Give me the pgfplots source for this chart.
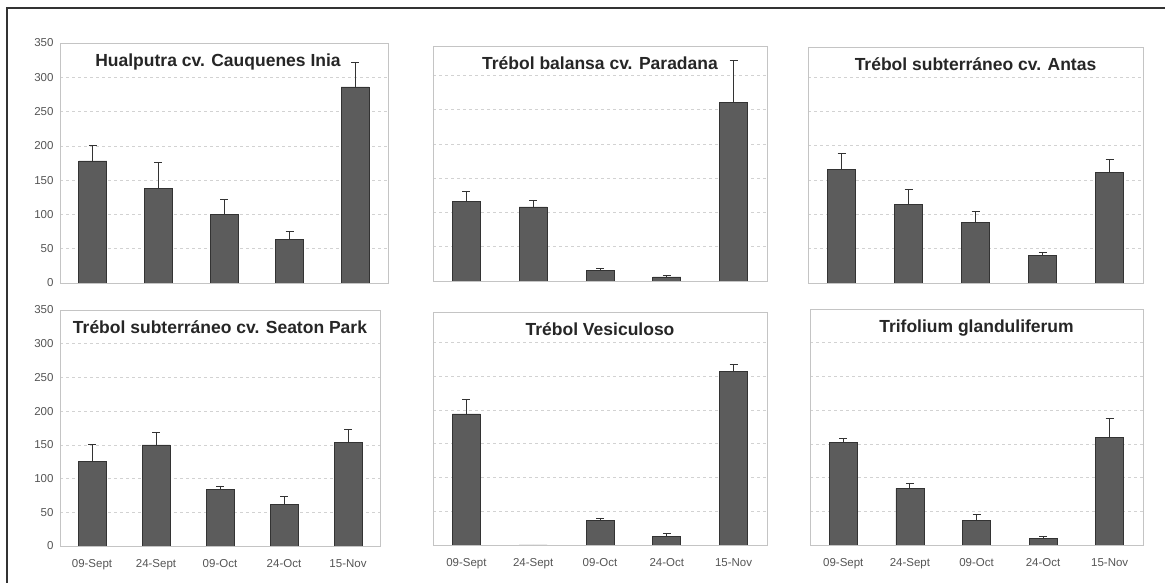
\documentclass[border=0pt]{standalone}
\usepackage{fontspec}
\setmainfont{Liberation Sans}
\usepackage{pgfplots}
\pgfplotsset{compat=1.18}

\definecolor{barfill}{HTML}{5C5C5C}
\definecolor{baredge}{HTML}{333333}
\definecolor{framegray}{HTML}{C4C4C4}
\definecolor{gridgray}{HTML}{D2D2D2}
\definecolor{ticktext}{HTML}{555555}

\pgfplotsset{
  panel/.style={
    scale only axis,
    anchor=south west,
    ybar,
    bar width=28pt,
    xmin=-0.5, xmax=4.5,
    ymin=0,
    xtick={0,...,4},
    ytick={0,50,...,350},
    xticklabels={},
    yticklabels={},
    axis line style={draw=framegray, line width=0.8pt},
    ymajorgrids,
    grid style={dashed, gridgray, line width=0.6pt},
    tick style={draw=none},
    /pgf/number format/assume math mode=true,
    ticklabel style={font=\fontsize{11.5}{13}\selectfont, text=ticktext},
    title style={at={(0.5,1)}, anchor=north, yshift=-13pt,
                 font=\bfseries\fontsize{17.5}{20}\selectfont, text=black!85},
  },
  withy/.style={yticklabels={0,50,100,150,200,250,300,350},
                yticklabel style={xshift=-3pt}},
  withx/.style={xticklabels={09-Sept,24-Sept,09-Oct,24-Oct,15-Nov},
                xticklabel style={yshift=-6pt}},
  barstyle/.style={fill=barfill, draw=baredge, line width=0.7pt,
    error bars/.cd, y dir=plus, y explicit,
    error bar style={draw=baredge, line width=0.9pt},
    error mark options={rotate=90, mark size=4pt, draw=baredge, line width=0.9pt}},
}

\begin{document}
\begin{tikzpicture}
\useasboundingbox (0pt,0pt) rectangle (1165pt,583pt);
\draw[line width=1.3pt, black!80] (7pt,0pt) -- (7pt,575pt) -- (1165pt,575pt);

% top row
\begin{axis}[panel, withy, at={(60pt,300pt)}, width=328pt, height=240pt, ymax=350,
  title={Hualputra cv. Cauquenes Inia}, title style={xshift=-6pt}]
\addplot[barstyle] coordinates {(0,178) +- (0,22) (1,138) +- (0,38) (2,100) +- (0,22) (3,64) +- (0,11) (4,286) +- (0,36)};
\end{axis}

\begin{axis}[panel, at={(433pt,302pt)}, width=334pt, height=235pt, ymax=343,
  title={Trébol balansa cv. Paradana}]
\addplot[barstyle] coordinates {(0,116) +- (0,15) (1,108) +- (0,9) (2,15) +- (0,3) (3,6) +- (0,1.5) (4,261) +- (0,61)};
\end{axis}

\begin{axis}[panel, at={(808pt,300pt)}, width=335pt, height=236pt, ymax=344,
  title={Trébol subterráneo cv. Antas}]
\addplot[barstyle] coordinates {(0,166) +- (0,23) (1,115) +- (0,21) (2,88) +- (0,16) (3,40) +- (0,5) (4,161) +- (0,19)};
\end{axis}

% bottom row
\begin{axis}[panel, withy, withx, at={(60pt,37pt)}, width=320pt, height=236pt, ymax=350,
  title={Trébol subterráneo cv. Seaton Park}]
\addplot[barstyle] coordinates {(0,126) +- (0,24) (1,150) +- (0,18) (2,84) +- (0,5) (3,62) +- (0,11) (4,154) +- (0,19)};
\end{axis}

\begin{axis}[panel, withx, at={(433pt,38pt)}, width=334pt, height=233pt, ymax=345,
  title={Trébol Vesiculoso}]
\addplot[barstyle] coordinates {(0,194) +- (0,21) (1,0) +- (0,0) (2,37) +- (0,3) (3,13) +- (0,4) (4,257) +- (0,10)};
\end{axis}

\begin{axis}[panel, withx, at={(810pt,38pt)}, width=333pt, height=236pt, ymax=350,
  title={Trifolium glanduliferum}]
\addplot[barstyle] coordinates {(0,152) +- (0,6) (1,84) +- (0,8) (2,37) +- (0,8) (3,10) +- (0,2) (4,160) +- (0,28)};
\end{axis}
\end{tikzpicture}
\end{document}
